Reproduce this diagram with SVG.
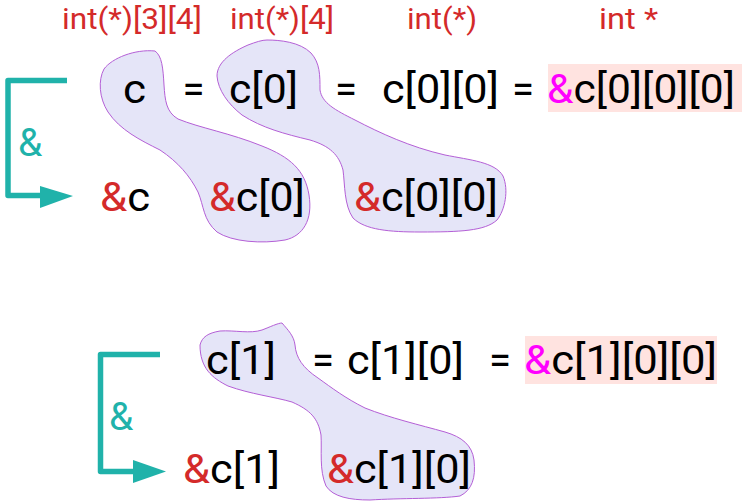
<svg xmlns="http://www.w3.org/2000/svg" width="742" height="501" viewBox="0 0 742 501">
<style>
text{font-family:Roboto,"Liberation Sans",sans-serif;}
.m{font-size:40px;fill:#000;}
.eq{font-size:40px;fill:#000;text-anchor:middle;}
.t{font-size:30px;fill:#d42a2a;}
.r{fill:#d42a2a;}
.p{fill:#ff00ff;}
.amp{font-size:39px;fill:#20b2aa;}
.blob{fill:#e5e5f8;stroke:#b45fd6;stroke-width:1;}
.hl{fill:#ffe3e0;}
.arr{fill:none;stroke:#20b2aa;stroke-width:5.5;stroke-linejoin:round;}
.head{fill:#20b2aa;}
</style>
<rect width="742" height="501" fill="#fff"/>
<g id="blobs">
<path class="blob" d="M155,51 C162,56 163,68 164,85 C165,100 166,112 178,119 C200,128 230,133 262,146 C290,157 305,170 309,195 C313,220 303,236 285,240 C262,244 232,242 217,232 C203,220 204,206 198,192 C190,176 178,162 160,150 C140,140 120,130 108,112 C99,98 98,80 104,69 C112,58 135,49 155,51 Z"/>
<path class="blob" d="M248,45 C256,42 262,40 267,40 C280,40 300,42 311,53 C320,63 320,75 320,90 C322,103 335,110 355,120 C380,133 410,147 445,155 C470,160 495,162 503,176 C509,190 505,210 497,220 C485,231 460,232 420,232 C390,232 365,230 353,218 C344,205 345,185 343,170 C339,155 330,146 310,140 C285,134 262,128 242,115 C228,104 218,90 217,76 C217,62 232,52 248,45 Z"/>
<path class="blob" d="M200,345 C202,337 208,333 220,331 C235,330 250,334 262,330 C270,327 278,323 282,323 C288,330 294,336 295,345 C296,358 303,368 318,378 C332,388 345,398 365,408 C390,418 420,425 445,432 C462,437 472,445 474,460 C476,478 472,490 460,496 C440,499 400,498 370,500 C350,500 333,497 326,486 C319,470 322,450 321,435 C318,418 310,410 292,402 C275,397 250,394 228,386 C212,378 200,368 200,345 Z"/>
</g>
<g id="connectors">
<path class="arr" d="M67,80.5 H8 V195.5 H42"/>
<polygon class="head" points="40,186 73,196 40,208"/>
<path class="arr" d="M160,354.5 H100.5 V471.5 H135"/>
<polygon class="head" points="133,460 166,471.5 133,483"/>
</g>
<g id="amp1"><text class="amp" x="18" y="156">&amp;</text></g>
<g id="amp2"><text class="amp" x="109" y="430">&amp;</text></g>
<g id="types">
<text class="t" x="62" y="29" textLength="140" lengthAdjust="spacingAndGlyphs">int(*)[3][4]</text>
<text class="t" x="230" y="29" textLength="104" lengthAdjust="spacingAndGlyphs">int(*)[4]</text>
<text class="t" x="407" y="29" textLength="70" lengthAdjust="spacingAndGlyphs">int(*)</text>
<text class="t" x="599" y="29" textLength="59" lengthAdjust="spacingAndGlyphs">int *</text>
</g>
<g id="row1">
<text class="m" x="123" y="102.5" textLength="23" lengthAdjust="spacingAndGlyphs">c</text>
<text class="eq" x="193.5" y="102.5">=</text>
<text class="m" x="229" y="102.5" textLength="69" lengthAdjust="spacingAndGlyphs">c[0]</text>
<text class="eq" x="346" y="102.5">=</text>
<text class="m" x="382" y="102.5" textLength="117" lengthAdjust="spacingAndGlyphs">c[0][0]</text>
<text class="eq" x="523" y="102.5">=</text>
<rect class="hl" x="548" y="64" width="194" height="48"/>
<text class="m" x="547" y="102.5" textLength="188" lengthAdjust="spacingAndGlyphs"><tspan class="p">&amp;</tspan>c[0][0][0]</text>
</g>
<g id="row1b">
<text class="m" x="100" y="211" textLength="50" lengthAdjust="spacingAndGlyphs"><tspan class="r">&amp;</tspan>c</text>
<text class="m" x="209" y="211" textLength="96" lengthAdjust="spacingAndGlyphs"><tspan class="r">&amp;</tspan>c[0]</text>
<text class="m" x="354" y="211" textLength="144" lengthAdjust="spacingAndGlyphs"><tspan class="r">&amp;</tspan>c[0][0]</text>
</g>
<g id="row2">
<text class="m" x="206" y="374" textLength="70" lengthAdjust="spacingAndGlyphs">c[1]</text>
<text class="eq" x="323" y="374">=</text>
<text class="m" x="347" y="374" textLength="117" lengthAdjust="spacingAndGlyphs">c[1][0]</text>
<text class="eq" x="500" y="374">=</text>
<rect class="hl" x="525" y="336" width="192" height="48"/>
<text class="m" x="524" y="374" textLength="193" lengthAdjust="spacingAndGlyphs"><tspan class="p">&amp;</tspan>c[1][0][0]</text>
</g>
<g id="row2b">
<text class="m" x="183" y="483" textLength="97" lengthAdjust="spacingAndGlyphs"><tspan class="r">&amp;</tspan>c[1]</text>
<text class="m" x="327" y="483" textLength="144" lengthAdjust="spacingAndGlyphs"><tspan class="r">&amp;</tspan>c[1][0]</text>
</g>
</svg>
